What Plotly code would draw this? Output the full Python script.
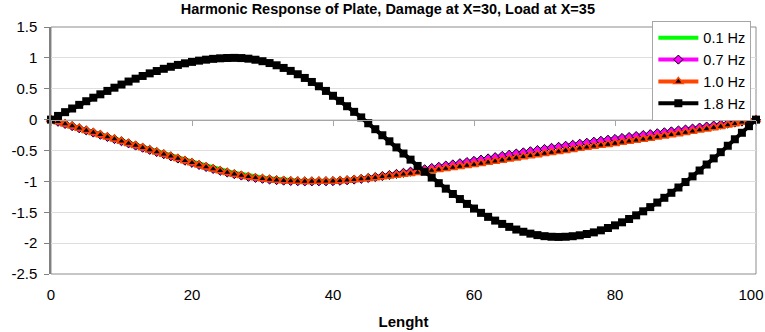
import plotly.graph_objects as go

# ---------------- data ----------------
lenght = list(range(0, 101))

hz01 = [0.000, -0.033, -0.066, -0.099, -0.132, -0.165, -0.199, -0.232, -0.266, -0.299,
        -0.333, -0.367, -0.401, -0.435, -0.469, -0.503, -0.537, -0.571, -0.606, -0.640,
        -0.675, -0.709, -0.742, -0.774, -0.804, -0.832, -0.858, -0.881, -0.902, -0.920,
        -0.937, -0.951, -0.963, -0.973, -0.981, -0.987, -0.991, -0.993, -0.994, -0.995,
        -0.994, -0.989, -0.982, -0.973, -0.963, -0.952, -0.940, -0.927, -0.914, -0.900,
        -0.886, -0.871, -0.856, -0.840, -0.824, -0.808, -0.792, -0.776, -0.760, -0.744,
        -0.728, -0.710, -0.692, -0.674, -0.656, -0.638, -0.620, -0.602, -0.585, -0.567,
        -0.550, -0.532, -0.515, -0.498, -0.482, -0.465, -0.449, -0.433, -0.417, -0.401,
        -0.385, -0.368, -0.351, -0.334, -0.317, -0.300, -0.282, -0.264, -0.246, -0.228,
        -0.210, -0.190, -0.170, -0.150, -0.130, -0.110, -0.088, -0.066, -0.044, -0.022,
        0.000]

hz07 = [0.000, -0.035, -0.070, -0.105, -0.140, -0.175, -0.210, -0.245, -0.280, -0.315,
        -0.350, -0.385, -0.420, -0.455, -0.490, -0.525, -0.560, -0.595, -0.630, -0.665,
        -0.700, -0.734, -0.767, -0.799, -0.829, -0.857, -0.883, -0.906, -0.926, -0.943,
        -0.958, -0.970, -0.980, -0.988, -0.994, -0.998, -1.000, -1.000, -0.999, -0.998,
        -0.996, -0.990, -0.982, -0.971, -0.959, -0.945, -0.930, -0.914, -0.897, -0.879,
        -0.861, -0.842, -0.823, -0.803, -0.783, -0.763, -0.744, -0.725, -0.706, -0.687,
        -0.668, -0.648, -0.628, -0.608, -0.588, -0.568, -0.549, -0.530, -0.512, -0.493,
        -0.475, -0.457, -0.440, -0.423, -0.407, -0.390, -0.374, -0.358, -0.342, -0.326,
        -0.313, -0.297, -0.281, -0.266, -0.250, -0.235, -0.220, -0.205, -0.190, -0.175,
        -0.160, -0.144, -0.128, -0.112, -0.096, -0.080, -0.064, -0.048, -0.032, -0.016,
        0.000]

hz10 = [0.000, -0.035, -0.070, -0.105, -0.140, -0.175, -0.210, -0.245, -0.280, -0.315,
        -0.350, -0.385, -0.420, -0.455, -0.490, -0.525, -0.560, -0.595, -0.630, -0.665,
        -0.700, -0.734, -0.767, -0.799, -0.829, -0.857, -0.883, -0.906, -0.926, -0.943,
        -0.958, -0.970, -0.980, -0.988, -0.994, -0.998, -1.000, -1.000, -0.999, -0.998,
        -0.996, -0.990, -0.982, -0.973, -0.963, -0.952, -0.940, -0.927, -0.914, -0.900,
        -0.886, -0.871, -0.856, -0.840, -0.824, -0.808, -0.792, -0.776, -0.760, -0.744,
        -0.728, -0.710, -0.692, -0.674, -0.656, -0.638, -0.620, -0.602, -0.585, -0.567,
        -0.550, -0.532, -0.515, -0.498, -0.482, -0.465, -0.449, -0.433, -0.417, -0.401,
        -0.385, -0.368, -0.351, -0.334, -0.317, -0.300, -0.282, -0.264, -0.246, -0.228,
        -0.210, -0.190, -0.170, -0.150, -0.130, -0.110, -0.088, -0.066, -0.044, -0.022,
        0.000]

hz18 = [0.000, 0.060, 0.121, 0.180, 0.239, 0.298, 0.355, 0.410, 0.465, 0.517,
        0.568, 0.617, 0.663, 0.707, 0.749, 0.787, 0.823, 0.856, 0.886, 0.912,
        0.935, 0.955, 0.971, 0.984, 0.993, 0.998, 1.000, 0.997, 0.987, 0.970,
        0.946, 0.916, 0.880, 0.837, 0.789, 0.735, 0.675, 0.610, 0.540, 0.465,
        0.386, 0.304, 0.217, 0.126, 0.036, -0.059, -0.155, -0.253, -0.351, -0.450,
        -0.549, -0.648, -0.750, -0.845, -0.938, -1.029, -1.118, -1.204, -1.286, -1.365,
        -1.440, -1.510, -1.575, -1.635, -1.689, -1.737, -1.780, -1.816, -1.846, -1.870,
        -1.887, -1.897, -1.900, -1.897, -1.888, -1.873, -1.852, -1.826, -1.793, -1.755,
        -1.712, -1.663, -1.609, -1.550, -1.485, -1.417, -1.343, -1.266, -1.185, -1.099,
        -1.011, -0.919, -0.824, -0.727, -0.628, -0.527, -0.423, -0.318, -0.213, -0.106,
        0.000]

x_ticks = [0, 20, 40, 60, 80]
x_labels = ["0", "20", "40", "60", "80"]
x_end_tick = [100]
x_end_label = ["100"]
y_ticks = [-2.5, -2, -1.5, -1, -0.5, 0, 0.5, 1, 1.5]
y_labels = ["-2.5", "-2", "-1.5", "-1", "-0.5", "0", "0.5", "1", "1.5"]

FONT = "Liberation Sans, Arial, sans-serif"

fig = go.Figure()
fig.add_trace(go.Scatter(x=lenght, y=hz01, name="0.1 Hz", mode="lines",
                         line=dict(color="#00FF00", width=4), cliponaxis=False))
fig.add_trace(go.Scatter(x=lenght, y=hz07, name="0.7 Hz", mode="lines+markers",
                         line=dict(color="#FF00FF", width=4),
                         marker=dict(symbol="diamond", size=7, color="#FF00FF",
                                     line=dict(color="black", width=1)),
                         cliponaxis=False))
fig.add_trace(go.Scatter(x=lenght, y=hz10, name="1.0 Hz", mode="lines+markers",
                         line=dict(color="#FF4500", width=4),
                         marker=dict(symbol="triangle-up", size=8, color="black",
                                     line=dict(color="#FF4500", width=1.5)),
                         cliponaxis=False))
fig.add_trace(go.Scatter(x=lenght, y=hz18, name="1.8 Hz", mode="lines+markers",
                         line=dict(color="black", width=4),
                         marker=dict(symbol="square", size=8, color="black"),
                         cliponaxis=False))
# helper traces so the overlay axes are drawn
fig.add_trace(go.Scatter(x=lenght, y=hz18, xaxis="x2", mode="lines", opacity=0,
                         showlegend=False, hoverinfo="skip"))
fig.add_trace(go.Scatter(x=lenght, y=hz18, xaxis="x3", mode="lines", opacity=0,
                         showlegend=False, hoverinfo="skip"))

fig.update_layout(
    width=765, height=332,
    margin=dict(l=51, r=9, t=27, b=58, autoexpand=False),
    paper_bgcolor="white", plot_bgcolor="white",
    font=dict(family=FONT, size=15, color="black"),
    title=dict(text="<b>Harmonic Response of Plate, Damage at X=30, Load at X=35</b>",
               x=0.507, xref="container", xanchor="center",
               y=0.973, yref="container", yanchor="middle",
               font=dict(family=FONT, size=14.5, color="black")),
    xaxis=dict(range=[0, 100], tickvals=x_ticks, ticktext=x_labels,
               showgrid=False, zeroline=False, showline=False, ticks="",
               tickfont=dict(size=15), ticklabelstandoff=10, automargin=False,
               title=dict(text="<b>Lenght</b>", font=dict(size=15), standoff=14)),
    xaxis2=dict(range=[0, 100], overlaying="x", anchor="free", position=0.625,
                side="bottom", showline=True, linecolor="#a6a6a6", linewidth=1,
                ticks="outside", ticklen=5, tickcolor="#a6a6a6",
                tickvals=x_ticks + x_end_tick,
                showticklabels=False, showgrid=False, zeroline=False,
                automargin=False),
    xaxis3=dict(range=[0, 100], overlaying="x", anchor="y", side="bottom",
                showline=False, ticks="", tickvals=x_end_tick, ticktext=x_end_label,
                tickfont=dict(size=15), ticklabelstandoff=10, ticklabelshift=-5,
                showgrid=False, zeroline=False, automargin=False),
    yaxis=dict(range=[-2.5, 1.5], tickvals=y_ticks, ticktext=y_labels,
               showgrid=True, gridcolor="#dedede", gridwidth=1, zeroline=False,
               showline=True, linecolor="#808080", linewidth=1.5,
               ticks="outside", ticklen=5, tickcolor="#808080",
               tickfont=dict(size=15), ticklabelstandoff=4, automargin=False),
    legend=dict(x=0.853, y=1.025, xanchor="left", yanchor="top",
                bgcolor="white", bordercolor="#a6a6a6", borderwidth=1,
                font=dict(size=14.5), itemwidth=40, tracegroupgap=0),
    shapes=[dict(type="rect", xref="paper", yref="paper", x0=0, x1=1, y0=0, y1=1,
                 line=dict(color="#8c8c8c", width=1), layer="below")],
)

fig.write_html("out.html")
